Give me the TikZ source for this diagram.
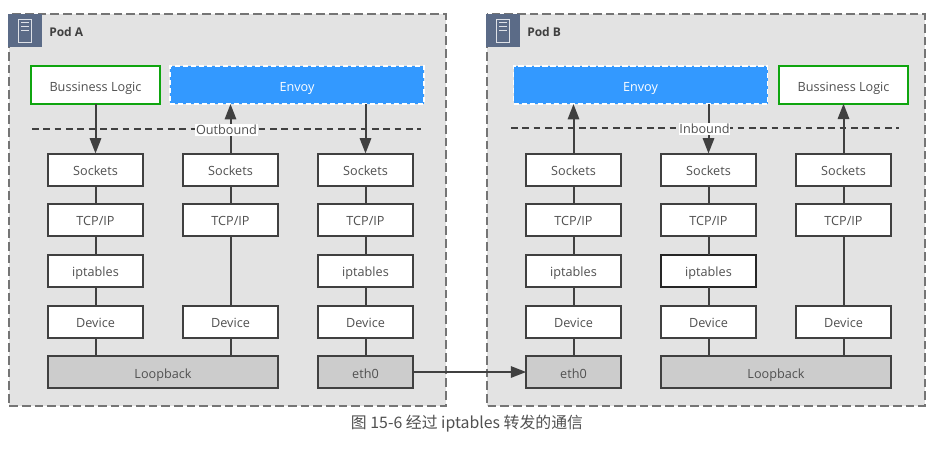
\documentclass[tikz,border=0pt]{standalone}
\usepackage{fontspec}
\setmainfont{Open Sans}
\newfontfamily\cjkfont{Noto Sans CJK SC}
\usetikzlibrary{calc}
\usetikzlibrary{arrows.meta}
\definecolor{podgray}{HTML}{E3E3E3}
\definecolor{podedge}{HTML}{757575}
\definecolor{linegray}{HTML}{404040}
\definecolor{txtgray}{HTML}{505050}
\definecolor{iconblue}{HTML}{5B6B87}
\definecolor{envoyblue}{HTML}{3399FF}
\definecolor{logicgreen}{HTML}{0FA50F}
\definecolor{nicgray}{HTML}{CCCCCC}
\tikzset{
  podbox/.style={draw=podedge,fill=podgray,line width=1.5pt,dash pattern=on 6.5pt off 3pt},
  stackbox/.style={draw=linegray,fill=white,line width=1.5pt,outer sep=0pt,text=txtgray,font=\fontsize{9.5}{11}\selectfont,minimum width=71pt,minimum height=24pt,inner sep=0pt,text height=9.5pt,text depth=0.5pt},
  nicbox/.style={stackbox,fill=nicgray},
  logicbox/.style={stackbox,draw=logicgreen,minimum width=97pt,minimum height=28pt},
  envoybox/.style={draw=white,fill=envoyblue,line width=1pt,dash pattern=on 4pt off 2pt,outer sep=0pt,text=white,font=\fontsize{9.5}{11}\selectfont,minimum width=190.5pt,minimum height=28.5pt,inner sep=0pt,text height=9.5pt,text depth=0.5pt},
  wire/.style={draw=linegray,line width=1.5pt},
  flow/.style={wire,-{Triangle[length=11.5pt,width=8.5pt]}},
  split/.style={draw=linegray,line width=1.5pt,dash pattern=on 5pt off 3.5pt},
  flowlabel/.style={fill=white,text=txtgray,font=\fontsize{9.5}{10}\selectfont,inner sep=0.5pt},
  podname/.style={text=linegray,font=\fontsize{9}{11}\selectfont\bfseries,anchor=west,inner sep=0pt},
  iconbox/.style={fill=iconblue,draw=none,minimum width=25.5pt,minimum height=25pt,outer sep=0pt},
  iconline/.style={draw=white!80!iconblue,line width=0.7pt}
}
\begin{document}
\begin{tikzpicture}[x=0.75pt,y=-0.75pt]
  \useasboundingbox (0,0) rectangle (941,455);

  % pods
  \draw [podbox] (8.5,14) rectangle (446,406);
  \draw [podbox] (487,14) rectangle (925,406);

  % icons
  \node [iconbox] (iconA) at (25,30.5) {};
  \node [iconbox] (iconB) at (503,30.5) {};
  \draw [iconline] ($ (iconA)+(-6.5,-11.5) $) rectangle ($ (iconA)+(6.5,11.5) $);
  \draw [iconline] ($ (iconA)+(-4,-8) $) -- ($ (iconA)+(4,-8) $);
  \draw [iconline] ($ (iconA)+(-4,-4.5) $) -- ($ (iconA)+(4,-4.5) $);
  \draw [iconline] ($ (iconA)+(-4,0) $) -- ($ (iconA)+(4,0) $);
  \draw [iconline] ($ (iconB)+(-6.5,-11.5) $) rectangle ($ (iconB)+(6.5,11.5) $);
  \draw [iconline] ($ (iconB)+(-4,-8) $) -- ($ (iconB)+(4,-8) $);
  \draw [iconline] ($ (iconB)+(-4,-4.5) $) -- ($ (iconB)+(4,-4.5) $);
  \draw [iconline] ($ (iconB)+(-4,0) $) -- ($ (iconB)+(4,0) $);
  \node [podname] (nameA) at (49,32) {Pod A};
  \node [podname] (nameB) at (527,32) {Pod B};

  % dashed splits
  \coordinate (splitA1) at (32,129);
  \coordinate (splitA2) at (421,129);
  \coordinate (splitB1) at (511,128);
  \coordinate (splitB2) at (899,128);
  \draw [split] (splitA1) -- (splitA2);
  \draw [split] (splitB1) -- (splitB2);

  % pod A
  \node [logicbox] (logicA) at (95.5,85) {Bussiness Logic};
  \node [envoybox] (envoyA) at (297,85) {Envoy};
  \node [stackbox] (sockA1) at (95.5,169.5) {Sockets};
  \node [stackbox] (sockA2) at (230.5,169.5) {Sockets};
  \node [stackbox] (sockA3) at (365.5,169.5) {Sockets};
  \node [stackbox] (tcpA1) at (95.5,219.5) {TCP/IP};
  \node [stackbox] (tcpA2) at (230.5,219.5) {TCP/IP};
  \node [stackbox] (tcpA3) at (365.5,219.5) {TCP/IP};
  \node [stackbox] (iptA1) at (95.5,270.5) {iptables};
  \node [stackbox] (iptA3) at (365.5,270.5) {iptables};
  \node [stackbox] (devA1) at (95.5,321.5) {Device};
  \node [stackbox] (devA2) at (230.5,321.5) {Device};
  \node [stackbox] (devA3) at (365.5,321.5) {Device};
  \node [nicbox,minimum width=172pt] (loopA) at (163,372) {Loopback};
  \node [nicbox] (ethA) at (365.5,372) {eth0};

  % pod B
  \node [envoybox] (envoyB) at (640.5,85) {Envoy};
  \node [logicbox] (logicB) at (843.5,85) {Bussiness Logic};
  \node [stackbox] (sockB1) at (573.5,169.5) {Sockets};
  \node [stackbox] (sockB2) at (708.5,169.5) {Sockets};
  \node [stackbox] (sockB3) at (843.5,169.5) {Sockets};
  \node [stackbox] (tcpB1) at (573.5,219.5) {TCP/IP};
  \node [stackbox] (tcpB2) at (708.5,219.5) {TCP/IP};
  \node [stackbox] (tcpB3) at (843.5,219.5) {TCP/IP};
  \node [stackbox] (iptB1) at (573.5,270.5) {iptables};
  \node [stackbox,draw=black!85] (iptB2) at (708.5,270.5) {iptables};
  \node [stackbox] (devB1) at (573.5,321.5) {Device};
  \node [stackbox] (devB2) at (708.5,321.5) {Device};
  \node [stackbox] (devB3) at (843.5,321.5) {Device};
  \node [nicbox] (ethB) at (573.5,372) {eth0};
  \node [nicbox,minimum width=172pt] (loopB) at (776,372) {Loopback};

  % stacks
  \draw [wire] (sockA1) -- (tcpA1);
  \draw [wire] (tcpA1) -- (iptA1);
  \draw [wire] (iptA1) -- (devA1);
  \draw [wire] (devA1) -- (devA1 |- loopA.north);
  \draw [wire] (sockA2) -- (tcpA2);
  \draw [wire] (tcpA2) -- (devA2);
  \draw [wire] (devA2) -- (devA2 |- loopA.north);
  \draw [wire] (sockA3) -- (tcpA3);
  \draw [wire] (tcpA3) -- (iptA3);
  \draw [wire] (iptA3) -- (devA3);
  \draw [wire] (devA3) -- (ethA);
  \draw [wire] (sockB1) -- (tcpB1);
  \draw [wire] (tcpB1) -- (iptB1);
  \draw [wire] (iptB1) -- (devB1);
  \draw [wire] (devB1) -- (ethB);
  \draw [wire] (sockB2) -- (tcpB2);
  \draw [wire] (tcpB2) -- (iptB2);
  \draw [wire] (iptB2) -- (devB2);
  \draw [wire] (devB2) -- (devB2 |- loopB.north);
  \draw [wire] (sockB3) -- (tcpB3);
  \draw [wire] (tcpB3) -- (devB3);
  \draw [wire] (devB3) -- (devB3 |- loopB.north);

  % flows
  \draw [flow] (logicA) -- (sockA1);
  \draw [flow] (sockA2) -- (sockA2 |- envoyA.south);
  \draw [flow] (sockA3 |- envoyA.south) -- (sockA3);
  \draw [flow] (sockB1) -- (sockB1 |- envoyB.south);
  \draw [flow] (sockB2 |- envoyB.south) -- (sockB2);
  \draw [flow] (sockB3) -- (logicB);
  \draw [flow] (ethA) -- (ethB);

  \node [flowlabel] (outbound) at (226.5,130) {Outbound};
  \node [flowlabel] (inbound) at (704.5,129) {Inbound};

  \node [text=txtgray,font=\cjkfont\fontsize{11.9}{13}\selectfont,inner sep=0pt] (caption) at (467,423.5) {图 15-6 经过 iptables 转发的通信};
\end{tikzpicture}
\end{document}
